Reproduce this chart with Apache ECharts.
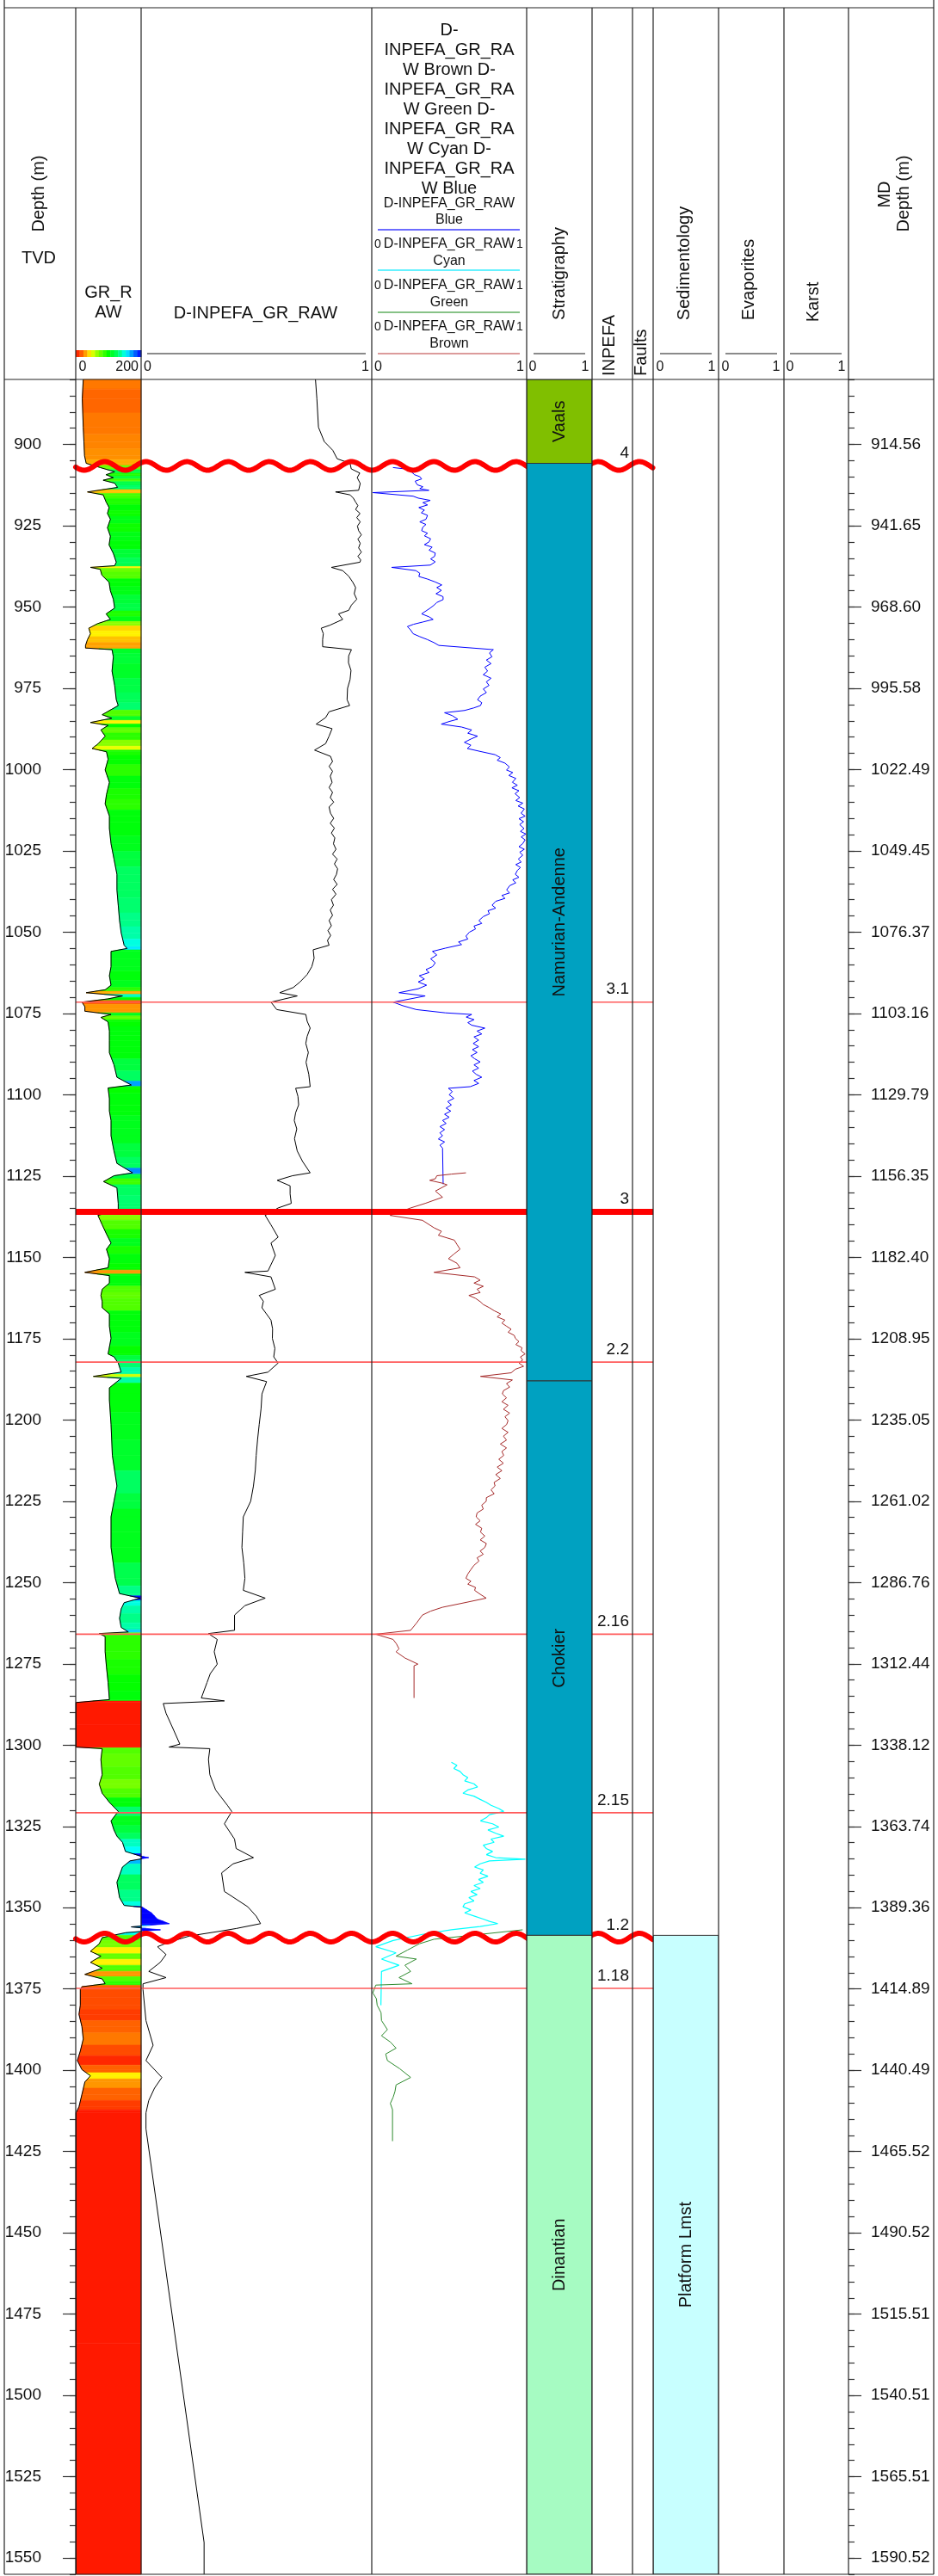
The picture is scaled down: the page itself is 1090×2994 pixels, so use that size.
<!DOCTYPE html>
<html><head><meta charset="utf-8">
<script src="https://cdn.jsdelivr.net/npm/echarts@6/dist/echarts.min.js"></script>
<style>html,body{margin:0;padding:0;background:#fff}#c{width:1090px;height:2994px}</style>
</head><body><div id="c"></div><script>
// ---------------- DATA ----------------
const depthMin = 880, depthMax = 1555;
const tvdTicks = [900,925,950,975,1000,1025,1050,1075,1100,1125,1150,1175,1200,1225,1250,1275,1300,1325,1350,1375,1400,1425,1450,1475,1500,1525,1550];
const mdLabels = ['914.56','941.65','968.60','995.58','1022.49','1049.45','1076.37','1103.16','1129.79','1156.35','1182.40','1208.95','1235.05','1261.02','1286.76','1312.44','1338.12','1363.74','1389.36','1414.89','1440.49','1465.52','1490.52','1515.51','1540.51','1565.51','1590.52'];
const minorTicks = [];
for (let d = depthMin; d <= depthMax; d += 5) minorTicks.push(d);

// GR_RAW [depth, value] (scale 0-200)
const grCurve = [[880,23],[885.9,20],[894.7,23],[899.1,25],[903.5,27],[905.8,32],[907.1,75],[908.4,119],[909.3,93],[910.2,115],[911.0,84],[911.9,119],[913.2,128],[914.6,36],[915.5,84],[917.7,93],[919.4,102],[921.2,97],[923.0,106],[925.6,97],[928.2,106],[930.9,102],[933.5,115],[936.2,124],[937.3,119],[937.8,45],[938.4,75],[940.2,80],[942.4,102],[945.0,106],[947.6,115],[950.3,119],[952.1,93],[953.8,106],[955.1,67],[956.5,40],[958.2,45],[960.0,36],[961.8,30],[962.6,30],[963.1,111],[965.3,115],[969.7,111],[974.1,119],[978.5,124],[980.3,130],[983.1,81],[984.2,110],[985.5,45],[986.4,99],[987.8,77],[989.7,90],[992.1,68],[993.5,50],[994.5,94],[996.8,99],[1000.1,90],[1003.9,103],[1007.7,94],[1010.5,90],[1014.3,103],[1018.1,103],[1022.8,108],[1027.5,117],[1032.2,126],[1037.0,126],[1041.7,130],[1046.4,134],[1050.2,139],[1054.0,148],[1055.0,157],[1055.9,108],[1060.6,108],[1063.4,103],[1066.3,108],[1067.7,90],[1068.6,32],[1069.6,143],[1070.5,99],[1071.5,19],[1072.9,28],[1074.3,28],[1075.3,108],[1076.2,77],[1077.6,99],[1080.4,103],[1083.3,103],[1087.1,103],[1090.8,117],[1094.6,126],[1097.0,170],[1097.9,99],[1101.2,103],[1105.0,103],[1107.9,108],[1112.6,108],[1117.3,117],[1121.1,126],[1124.0,174],[1124.9,117],[1126.7,85],[1128.6,126],[1133.4,130],[1135.3,130],[1137.1,68],[1140.0,81],[1142.8,94],[1145.6,108],[1147.5,94],[1150.4,103],[1153.2,99],[1154.6,28],[1155.6,103],[1157.9,103],[1159.8,81],[1161.7,77],[1163.6,81],[1165.5,81],[1167.4,103],[1171.2,103],[1174.9,108],[1179.7,99],[1180.6,117],[1182.5,130],[1185.3,139],[1186.6,54],[1187.2,139],[1190.1,103],[1193.8,103],[1201.4,108],[1210.9,112],[1220.3,126],[1225.0,117],[1229.8,108],[1239.2,108],[1248.7,121],[1253.4,134],[1254.8,197],[1256.2,148],[1258.1,139],[1261.0,134],[1263.8,139],[1265.2,161],[1265.7,72],[1266.6,90],[1271.3,90],[1276.0,94],[1280.7,99],[1286.0,103],[1286.9,1],[1300.6,1],[1301.1,81],[1304.4,77],[1309.1,81],[1312.0,72],[1314.8,81],[1317.6,103],[1320.4,130],[1323.3,108],[1326.1,117],[1328.0,126],[1329.9,143],[1332.7,152],[1334.1,197],[1334.6,223],[1335.6,166],[1337.5,143],[1342.2,126],[1346.9,134],[1349.3,148],[1349.9,205],[1351.6,232],[1353.5,250],[1354.9,286],[1355.9,170],[1356.8,259],[1357.7,152],[1359.2,81],[1361.1,72],[1363.4,45],[1364.9,77],[1366.8,45],[1368.6,81],[1370.5,28],[1371.9,81],[1373.4,90],[1374.3,19],[1375.2,14],[1380.0,14],[1382.8,10],[1386.6,19],[1390.4,23],[1394.1,14],[1397.0,5],[1399.8,19],[1401.7,45],[1403.6,28],[1407.4,19],[1411.2,10],[1413.1,1],[1555,1]];

// D-INPEFA_GR_RAW [depth, value] (0-1)
const inpefaCurve = [[880,0.756],[885.9,0.762],[894.7,0.769],[899.1,0.794],[901.8,0.831],[904.4,0.850],[905.8,0.906],[907.5,0.911],[908.8,0.948],[910.2,0.937],[912.0,0.95],[914.1,0.943],[914.6,0.843],[915.5,0.906],[916.5,0.92],[917.7,0.930],[918.8,0.94],[920.0,0.93],[921.2,0.949],[922.5,0.935],[923.8,0.95],[925.1,0.938],[926.5,0.943],[927.8,0.955],[929.1,0.94],[930.4,0.95],[931.8,0.943],[933.1,0.955],[934.4,0.94],[935.5,0.952],[936.2,0.949],[937.8,0.825],[938.8,0.874],[940.5,0.90],[942.4,0.918],[944.0,0.93],[945.9,0.924],[947.6,0.935],[949.4,0.912],[951.0,0.90],[952.1,0.856],[953.8,0.874],[955.6,0.818],[956.5,0.781],[958.2,0.79],[960.0,0.787],[962.2,0.787],[963.1,0.912],[965.0,0.90],[967.1,0.899],[969.5,0.91],[972.3,0.906],[975.0,0.895],[978.5,0.893],[980.3,0.904],[982.2,0.815],[984.0,0.80],[986.0,0.759],[987.4,0.828],[989.7,0.815],[992.0,0.80],[994.0,0.752],[995.9,0.821],[997.5,0.83],[999.0,0.815],[1000.5,0.83],[1002.0,0.82],[1003.9,0.828],[1005.5,0.815],[1007.0,0.83],[1008.6,0.82],[1010.0,0.835],[1011.5,0.815],[1013.4,0.821],[1015.0,0.835],[1016.5,0.82],[1018.0,0.838],[1019.5,0.825],[1021.0,0.84],[1022.8,0.834],[1024.5,0.845],[1026.0,0.83],[1027.5,0.85],[1029.0,0.838],[1030.5,0.852],[1032.2,0.847],[1033.8,0.835],[1035.3,0.85],[1036.8,0.83],[1038.3,0.845],[1040.0,0.825],[1041.7,0.834],[1043.2,0.82],[1044.8,0.83],[1046.4,0.815],[1048.0,0.825],[1049.5,0.81],[1051.0,0.822],[1052.5,0.808],[1054.0,0.815],[1055.4,0.746],[1058.0,0.75],[1060.6,0.740],[1063.0,0.72],[1065.3,0.689],[1067.0,0.66],[1068.6,0.601],[1069.6,0.677],[1071.5,0.563],[1073.8,0.588],[1075.3,0.714],[1077.4,0.72],[1079.5,0.733],[1082.0,0.72],[1084.2,0.714],[1087.0,0.725],[1090.0,0.715],[1093.7,0.727],[1097.5,0.733],[1098.0,0.670],[1100.5,0.68],[1103.1,0.683],[1105.5,0.67],[1107.9,0.664],[1110.5,0.675],[1113.5,0.665],[1117.3,0.677],[1120.5,0.70],[1124.0,0.733],[1124.9,0.656],[1126.3,0.590],[1128.0,0.646],[1130.5,0.646],[1133.4,0.651],[1134.8,0.594],[1137.1,0.538],[1140.0,0.563],[1143.8,0.594],[1145.6,0.563],[1149.4,0.582],[1154.2,0.550],[1154.6,0.450],[1156.0,0.563],[1159.8,0.582],[1161.7,0.512],[1163.5,0.53],[1165.5,0.524],[1169.3,0.563],[1172.0,0.57],[1174.9,0.569],[1178.0,0.58],[1180.6,0.575],[1182.5,0.594],[1185.3,0.550],[1186.6,0.456],[1188.2,0.544],[1192.0,0.524],[1196.5,0.52],[1201.4,0.512],[1206.0,0.505],[1210.9,0.499],[1215.5,0.495],[1220.3,0.487],[1225.0,0.475],[1229.8,0.443],[1234.5,0.44],[1239.2,0.437],[1244.0,0.445],[1248.7,0.450],[1252.4,0.443],[1254.8,0.538],[1257.1,0.450],[1260.0,0.405],[1264.7,0.405],[1265.7,0.292],[1267.5,0.330],[1271.3,0.317],[1275.1,0.330],[1278.0,0.30],[1280.7,0.286],[1285.5,0.261],[1286.4,0.361],[1287.2,0.096],[1290.2,0.108],[1294.9,0.138],[1299.7,0.168],[1300.6,0.121],[1301.1,0.298],[1304.4,0.292],[1309.1,0.298],[1313.8,0.323],[1318.5,0.374],[1320.4,0.393],[1324.2,0.361],[1328.9,0.405],[1331.8,0.412],[1334.6,0.487],[1336.5,0.399],[1339.3,0.349],[1345.0,0.361],[1349.7,0.462],[1352.6,0.499],[1354.9,0.518],[1356.4,0.412],[1357.3,0.336],[1358.7,0.210],[1360.6,0.121],[1362.0,0.071],[1364.4,0.108],[1366.8,0.083],[1369.6,0.033],[1371.5,0.108],[1373.4,0.008],[1375.2,0.008],[1384.7,0.021],[1392.3,0.052],[1397.0,0.021],[1402.2,0.090],[1405.5,0.058],[1409.3,0.033],[1413.1,0.021],[1418,0.021],[1545.2,0.273],[1555,0.273]];

// Coloured D-INPEFA segments [depth, value] (0-1)
const blueCurve = [[907.1,0.137],[908.0,0.304],[908.6,0.26],[909.3,0.276],[909.9,0.31],[910.6,0.322],[911.3,0.28],[912.4,0.294],[913.0,0.33],[913.6,0.31],[914.1,0.369],[914.8,0.007],[915.9,0.267],[916.5,0.30],[917.2,0.378],[917.9,0.33],[918.6,0.36],[919.4,0.304],[920.2,0.34],[921.0,0.32],[921.8,0.36],[923.0,0.350],[923.8,0.31],[924.6,0.35],[925.4,0.33],[926.5,0.322],[927.3,0.36],[928.1,0.34],[929.0,0.38],[930.0,0.369],[930.8,0.34],[931.6,0.39],[932.5,0.37],[933.4,0.41],[934.4,0.406],[935.2,0.38],[936.1,0.41],[937.1,0.378],[937.8,0.128],[938.8,0.285],[939.6,0.31],[940.6,0.304],[941.4,0.36],[942.3,0.41],[943.2,0.452],[944.0,0.42],[944.9,0.45],[945.9,0.415],[946.8,0.46],[947.7,0.461],[948.6,0.42],[949.5,0.40],[950.3,0.378],[951.2,0.35],[952.1,0.322],[953.0,0.37],[953.8,0.396],[954.6,0.33],[955.3,0.27],[956.0,0.230],[957.0,0.25],[958.2,0.267],[959.1,0.31],[960.0,0.359],[960.9,0.40],[961.8,0.433],[963.1,0.785],[964.1,0.76],[965.3,0.776],[966.3,0.74],[967.4,0.77],[968.5,0.73],[969.7,0.748],[970.8,0.72],[971.9,0.77],[973.0,0.74],[974.1,0.757],[975.2,0.72],[976.3,0.74],[977.4,0.70],[978.5,0.683],[979.4,0.71],[980.3,0.702],[981.0,0.66],[981.8,0.60],[982.5,0.470],[983.4,0.52],[984.5,0.555],[985.2,0.50],[986.0,0.449],[986.9,0.58],[987.8,0.645],[988.8,0.62],[989.7,0.683],[990.6,0.64],[991.6,0.598],[992.5,0.64],[993.5,0.617],[994.4,0.70],[995.4,0.796],[996.3,0.83],[997.1,0.81],[998.0,0.86],[999.2,0.889],[1000.1,0.87],[1000.9,0.91],[1001.8,0.885],[1002.7,0.93],[1003.9,0.908],[1004.8,0.94],[1005.6,0.905],[1006.5,0.95],[1007.4,0.925],[1008.6,0.955],[1009.5,0.93],[1010.3,0.975],[1011.2,0.945],[1012.1,0.985],[1013.4,0.964],[1014.3,0.99],[1015.1,0.95],[1016.0,0.98],[1016.9,0.955],[1018.1,0.983],[1019.0,0.96],[1019.8,0.995],[1020.7,0.965],[1021.6,0.99],[1022.8,0.974],[1023.7,0.95],[1024.5,0.985],[1025.4,0.955],[1026.3,0.975],[1027.5,0.946],[1028.4,0.965],[1029.2,0.93],[1030.1,0.96],[1031.0,0.94],[1032.2,0.927],[1033.1,0.95],[1033.9,0.91],[1034.8,0.93],[1035.7,0.89],[1037.0,0.871],[1037.9,0.89],[1038.7,0.84],[1039.6,0.86],[1040.5,0.80],[1041.7,0.777],[1042.6,0.80],[1043.4,0.75],[1044.3,0.76],[1045.2,0.72],[1046.4,0.692],[1047.3,0.71],[1048.1,0.66],[1049.0,0.67],[1050.0,0.63],[1051.2,0.608],[1052.1,0.62],[1053.0,0.56],[1053.8,0.58],[1054.9,0.476],[1055.9,0.392],[1057.0,0.42],[1058.2,0.38],[1059.4,0.41],[1060.6,0.392],[1061.5,0.35],[1062.4,0.37],[1063.4,0.307],[1064.4,0.34],[1065.3,0.30],[1066.3,0.354],[1067.4,0.30],[1068.6,0.176],[1069.6,0.345],[1070.5,0.25],[1071.5,0.138],[1072.6,0.20],[1073.8,0.288],[1074.8,0.476],[1075.3,0.645],[1076.1,0.61],[1076.9,0.66],[1077.8,0.62],[1078.6,0.645],[1079.5,0.730],[1080.4,0.68],[1081.3,0.71],[1082.2,0.66],[1083.2,0.69],[1084.2,0.655],[1085.2,0.69],[1086.1,0.65],[1087.0,0.68],[1088.0,0.64],[1088.9,0.664],[1089.9,0.70],[1090.8,0.66],[1091.8,0.69],[1092.7,0.65],[1093.7,0.674],[1094.6,0.71],[1095.6,0.66],[1096.5,0.69],[1097.5,0.636],[1098.0,0.495],[1099.0,0.52],[1100.0,0.50],[1101.1,0.53],[1102.1,0.49],[1103.1,0.514],[1104.1,0.48],[1105.0,0.51],[1106.0,0.47],[1106.9,0.50],[1107.9,0.457],[1108.8,0.48],[1109.8,0.44],[1110.7,0.47],[1111.7,0.44],[1112.6,0.457],[1113.6,0.43],[1114.5,0.47],[1115.5,0.44],[1116.4,0.457],[1127.5,0.461]];
const brownCurve = [[1124.0,0.608],[1124.4,0.514],[1124.9,0.420],[1125.8,0.411],[1126.3,0.374],[1127.2,0.457],[1127.7,0.486],[1129.6,0.411],[1131.5,0.457],[1133.4,0.345],[1134.8,0.251],[1137.1,0.119],[1138.6,0.327],[1140.9,0.402],[1142.0,0.45],[1143.2,0.43],[1144.7,0.533],[1146.0,0.55],[1147.5,0.570],[1149.0,0.53],[1150.4,0.495],[1151.8,0.55],[1153.2,0.570],[1154.6,0.402],[1156.0,0.664],[1157.0,0.70],[1157.9,0.66],[1158.9,0.720],[1159.8,0.68],[1160.8,0.70],[1161.7,0.627],[1162.6,0.67],[1163.6,0.70],[1164.5,0.720],[1165.5,0.76],[1166.4,0.79],[1167.4,0.833],[1168.3,0.81],[1169.3,0.86],[1170.2,0.84],[1171.2,0.871],[1172.1,0.90],[1173.0,0.88],[1174.0,0.92],[1174.9,0.927],[1175.9,0.95],[1176.8,0.93],[1177.8,0.97],[1178.7,0.964],[1179.7,0.99],[1180.6,0.96],[1181.6,0.974],[1182.5,0.95],[1183.5,0.98],[1184.4,0.927],[1185.5,0.90],[1186.6,0.702],[1187.7,0.908],[1188.8,0.87],[1189.9,0.89],[1191.0,0.85],[1192.0,0.843],[1193.2,0.87],[1194.4,0.84],[1195.5,0.88],[1196.7,0.85],[1197.9,0.89],[1199.0,0.86],[1200.2,0.88],[1201.4,0.871],[1202.6,0.84],[1203.8,0.88],[1205.0,0.85],[1206.2,0.87],[1207.4,0.83],[1208.6,0.87],[1209.7,0.84],[1210.9,0.852],[1212.1,0.82],[1213.3,0.85],[1214.5,0.81],[1215.6,0.84],[1216.8,0.80],[1218.0,0.83],[1219.2,0.79],[1220.3,0.796],[1221.5,0.77],[1222.7,0.79],[1223.9,0.74],[1225.0,0.739],[1226.2,0.71],[1227.4,0.72],[1228.6,0.68],[1229.8,0.674],[1231.0,0.70],[1232.1,0.67],[1233.3,0.71],[1234.5,0.702],[1235.7,0.73],[1236.9,0.70],[1238.0,0.74],[1239.2,0.730],[1240.3,0.70],[1241.3,0.72],[1242.4,0.68],[1243.4,0.692],[1244.7,0.66],[1246.0,0.64],[1247.4,0.62],[1248.7,0.608],[1249.6,0.64],[1250.5,0.62],[1251.5,0.67],[1252.4,0.664],[1253.6,0.70],[1254.8,0.739],[1256.2,0.60],[1257.6,0.457],[1258.8,0.38],[1260.0,0.327],[1262.4,0.29],[1264.7,0.251],[1265.9,0.026],[1267.5,0.138],[1268.9,0.16],[1270.4,0.176],[1271.3,0.157],[1273.2,0.214],[1275.1,0.298],[1275.6,0.273],[1285.5,0.273]];
const cyanCurve = [[1305.3,0.514],[1306.2,0.55],[1307.2,0.53],[1308.1,0.57],[1309.1,0.589],[1310.0,0.62],[1311.0,0.60],[1311.9,0.66],[1312.9,0.683],[1313.8,0.62],[1314.8,0.589],[1315.7,0.66],[1316.7,0.70],[1317.6,0.739],[1318.5,0.77],[1319.5,0.82],[1320.4,0.852],[1321.4,0.76],[1322.3,0.74],[1323.3,0.702],[1324.2,0.78],[1325.2,0.82],[1326.1,0.75],[1327.1,0.80],[1328.0,0.852],[1328.9,0.77],[1329.9,0.79],[1330.8,0.72],[1331.8,0.739],[1332.7,0.78],[1333.7,0.74],[1334.6,0.80],[1335.1,0.992],[1335.6,0.76],[1336.5,0.70],[1337.5,0.664],[1338.4,0.72],[1339.4,0.70],[1340.3,0.75],[1341.3,0.69],[1342.2,0.720],[1343.2,0.66],[1344.1,0.70],[1345.0,0.64],[1346.0,0.68],[1346.9,0.627],[1347.9,0.66],[1348.8,0.60],[1349.7,0.589],[1350.7,0.64],[1351.6,0.60],[1352.6,0.664],[1353.5,0.72],[1354.2,0.76],[1354.9,0.814],[1355.8,0.70],[1356.8,0.514],[1358.2,0.327],[1360.1,0.138],[1362.0,0.026],[1363.9,0.157],[1365.8,0.063],[1367.7,0.176],[1369.6,0.063],[1370.1,0.059],[1380.0,0.059]];
const greenCurve = [[1356.8,0.974],[1358.2,0.702],[1359.7,0.402],[1361.1,0.307],[1363.0,0.232],[1364.9,0.157],[1365.8,0.288],[1367.7,0.214],[1369.6,0.251],[1371.5,0.176],[1373.4,0.260],[1373.8,0.026],[1376.2,0.007],[1378.0,0.03],[1380.0,0.035],[1382.3,0.06],[1384.7,0.063],[1387.5,0.101],[1389.4,0.063],[1391.3,0.12],[1393.2,0.157],[1395.0,0.09],[1397.0,0.101],[1399.5,0.18],[1402.2,0.251],[1404.5,0.157],[1406.5,0.15],[1408.3,0.138],[1410.2,0.12],[1412.1,0.134],[1421.8,0.134]];

// Stratigraphy
const stratNames = ['Vaals','Namurian-Andenne','Chokier','Dinantian'];
const stratTops  = [880, 905.8, 1188, 1358.5];
const stratBases = [905.8, 1188, 1358.5, 1555];
// Sedimentology
const sedNames = ['Platform Lmst'];
const sedTops = [1358.5];
const sedBases = [1555];
// INPEFA surfaces
const inpefaPickDepths = [906.6, 1071.5, 1136, 1182.2, 1265.9, 1320.8, 1359.2, 1374.8];
const inpefaPickLabels = ['4','3.1','3','2.2','2.16','2.15','1.2','1.18'];
const unconformities = [906.6, 1359.2];
const majorSurfaces = [1136];
const minorSurfaces = [1071.5, 1182.2, 1265.9, 1320.8, 1374.8];

// ---------------- STYLE ----------------
const FONT = '"Liberation Sans", Arial, sans-serif';
const stratColors = ['#80BF00','#00A1C1','#00A1C1','#A6FBC2'];
const sedColors = ['#C8FFFF'];
const curveColors = {blue:'#0000FF', brown:'#A52A2A', cyan:'#00FFFF', green:'#2E8B2E'};
const TOP = 441, BOTTOM = 2992;
const tracks = [
  {left:88, width:76, xmax:200},  // 0 GR
  {left:164, width:268, xmax:1},  // 1 D-INPEFA
  {left:432, width:180, xmax:1},  // 2 coloured
  {left:612, width:76, xmax:1},   // 3 strat
  {left:688, width:47, xmax:1},   // 4 INPEFA
  {left:735, width:24, xmax:1},   // 5 faults
  {left:759, width:76, xmax:1},   // 6 sed
  {left:835, width:76, xmax:1},   // 7 evaporites
  {left:911, width:75, xmax:1},   // 8 karst
  {left:88, width:671, xmax:1}    // 9 overlay for surfaces
];
const wave = {amp:5, period:47.8, phase:121.7};
// colour scale knots for GR fill (value -> hue)
const hueKnots = [[0,5],[10,14],[20,24],[30,38],[45,57],[60,80],[100,120],[130,146],[150,176],[190,228],[200,240]];

function grColor(v){
  v = Math.max(0, Math.min(200, v));
  let h = 240;
  for (let k = 0; k < hueKnots.length - 1; k++) {
    const a = hueKnots[k], b = hueKnots[k+1];
    if (v >= a[0] && v <= b[0]) { h = a[1] + (b[1]-a[1]) * (v - a[0]) / (b[0] - a[0]); break; }
  }
  const f = (n) => { const k = (n + h / 60) % 6; return 1 - Math.max(0, Math.min(k, 4 - k, 1)); };
  const to = (x) => Math.round(x * 255).toString(16).padStart(2, '0');
  return '#' + to(f(5)) + to(f(3)) + to(f(1));
}

const chart = echarts.init(document.getElementById('c'), null, {renderer:'canvas'});

const grids = tracks.map(t => ({left:t.left, top:TOP, width:t.width, height:BOTTOM-TOP, containLabel:false}));
const xAxes = tracks.map((t,i) => ({gridIndex:i, type:'value', min:0, max:t.xmax, show:false}));
const yAxes = tracks.map((t,i) => ({gridIndex:i, type:'value', min:depthMin, max:depthMax, inverse:true, show:false}));
const tickStyle = {color:'#333', width:1.2};
yAxes.push({gridIndex:0, type:'value', min:depthMin, max:depthMax, inverse:true, position:'left',
  axisLine:{show:false}, splitLine:{show:false},
  axisTick:{show:true, length:15, customValues:tvdTicks, lineStyle:tickStyle},
  axisLabel:{show:true, customValues:tvdTicks, margin:40, fontSize:19, fontFamily:FONT, color:'#111',
    formatter: v => String(v)}});
yAxes.push({gridIndex:0, type:'value', min:depthMin, max:depthMax, inverse:true, position:'left',
  axisLine:{show:false}, splitLine:{show:false},
  axisTick:{show:true, length:7, customValues:minorTicks, lineStyle:tickStyle},
  axisLabel:{show:false}});
yAxes.push({gridIndex:8, type:'value', min:depthMin, max:depthMax, inverse:true, position:'right',
  axisLine:{show:false}, splitLine:{show:false},
  axisTick:{show:true, length:15, customValues:tvdTicks, lineStyle:tickStyle},
  axisLabel:{show:true, customValues:tvdTicks, margin:26, fontSize:19, fontFamily:FONT, color:'#111',
    formatter: v => { const i = tvdTicks.indexOf(v); return i >= 0 ? mdLabels[i] : ''; }}});
yAxes.push({gridIndex:8, type:'value', min:depthMin, max:depthMax, inverse:true, position:'right',
  axisLine:{show:false}, splitLine:{show:false},
  axisTick:{show:true, length:7, customValues:minorTicks, lineStyle:tickStyle},
  axisLabel:{show:false}});

function lineSeries(track, curve, color, width, z){
  return {type:'line', xAxisIndex:track, yAxisIndex:track, data: curve.map(p => [p[1], p[0]]),
    showSymbol:false, symbol:'none', clip:false, z:z||3, animation:false,
    lineStyle:{color:color, width:width||1}};
}

const series = [];
// GR colour fill
series.push({type:'custom', xAxisIndex:0, yAxisIndex:0, clip:false, z:1, animation:false,
  data: grCurve.slice(0, -1).map((p, i) => [i]),
  renderItem(params, api){
    const i = api.value(0);
    const a = grCurve[i], b = grCurve[i+1];
    const dm = (a[0] + b[0]) / 2, vm = (a[1] + b[1]) / 2;
    const pa = api.coord([a[1], a[0]]), pm = api.coord([vm, dm]), pb = api.coord([b[1], b[0]]);
    const ra = api.coord([200, a[0]]), rm = api.coord([200, dm]), rb = api.coord([200, b[0]]);
    const ca = grColor(a[1]), cb = grColor(b[1]);
    return {type:'group', children:[
      {type:'polygon', shape:{points:[pa, pm, rm, ra]}, style:{fill:ca, stroke:ca, lineWidth:0.6}},
      {type:'polygon', shape:{points:[pm, pb, rb, rm]}, style:{fill:cb, stroke:cb, lineWidth:0.6}}
    ]};
  }});
series.push(lineSeries(0, grCurve, '#000', 1, 3));
series.push(lineSeries(1, inpefaCurve, '#000', 1, 3));
series.push(lineSeries(2, blueCurve, curveColors.blue, 1, 3));
series.push(lineSeries(2, brownCurve, curveColors.brown, 1, 3));
series.push(lineSeries(2, cyanCurve, curveColors.cyan, 1.2, 3));
series.push(lineSeries(2, greenCurve, curveColors.green, 1, 3));

// surfaces on overlay
series.push({type:'custom', xAxisIndex:9, yAxisIndex:9, clip:false, z:5, animation:false,
  data: minorSurfaces.map(d => [d]),
  renderItem(params, api){
    const d = api.value(0); const l = api.coord([0, d]), r = api.coord([1, d]);
    return {type:'line', shape:{x1:l[0], y1:l[1], x2:r[0], y2:r[1]}, style:{stroke:'#FF5A5A', lineWidth:1.6}};
  }});
series.push({type:'custom', xAxisIndex:9, yAxisIndex:9, clip:false, z:5, animation:false,
  data: majorSurfaces.map(d => [d]),
  renderItem(params, api){
    const d = api.value(0); const l = api.coord([0, d]), r = api.coord([1, d]);
    return {type:'line', shape:{x1:l[0], y1:l[1], x2:r[0], y2:r[1]}, style:{stroke:'#FF0000', lineWidth:7}};
  }});
series.push({type:'custom', xAxisIndex:9, yAxisIndex:9, clip:false, z:5, animation:false,
  data: unconformities.map(d => [d]),
  renderItem(params, api){
    const d = api.value(0); const l = api.coord([0, d]), r = api.coord([1, d]);
    const pts = [];
    for (let x = l[0]; x <= r[0] + 0.01; x += 1.5) {
      pts.push([x, l[1] - wave.amp * Math.cos(2 * Math.PI * (x - wave.phase) / wave.period)]);
    }
    return {type:'polyline', shape:{points:pts}, style:{stroke:'#FF0000', lineWidth:6, fill:null, lineCap:'round', lineJoin:'round'}};
  }});
// stratigraphy blocks
function blockSeries(track, names, tops, bases, colors){
  return {type:'custom', xAxisIndex:track, yAxisIndex:track, clip:true, z:10, animation:false,
    data: names.map((n, i) => [i]),
    renderItem(params, api){
      const i = api.value(0);
      const p1 = api.coord([0, tops[i]]), p2 = api.coord([1, bases[i]]);
      return {type:'group', children:[
        {type:'rect', shape:{x:p1[0], y:p1[1], width:p2[0]-p1[0], height:p2[1]-p1[1]},
          style:{fill:colors[i], stroke:'#333', lineWidth:1}},
        {type:'text', x:(p1[0]+p2[0])/2, y:(p1[1]+p2[1])/2, rotation:Math.PI/2,
          style:{text:names[i], align:'center', verticalAlign:'middle', font:'20px ' + FONT, fill:'#111'}}
      ]};
    }};
}
series.push(blockSeries(3, stratNames, stratTops, stratBases, stratColors));
series.push(blockSeries(6, sedNames, sedTops, sedBases, sedColors));
// INPEFA labels
series.push({type:'custom', xAxisIndex:4, yAxisIndex:4, clip:false, z:11, animation:false,
  data: inpefaPickDepths.map((d, i) => [i]),
  renderItem(params, api){
    const i = api.value(0);
    const p = api.coord([1, inpefaPickDepths[i]]);
    return {type:'text', x:p[0]-4, y:p[1]-5, style:{text:inpefaPickLabels[i], align:'right', verticalAlign:'bottom', font:'19px ' + FONT, fill:'#111'}};
  }});

// ---------------- HEADER / FRAME graphics ----------------
const g = [];
function T(text, x, y, size, opts){
  opts = opts || {};
  g.push({type:'text', x:x, y:y, rotation: opts.rot ? Math.PI/2 : 0, z:50,
    style:{text:text, align:opts.align||'center', verticalAlign:opts.va||'middle', font:(size)+'px ' + FONT,
      fill:'#111', lineHeight:opts.lh}});
}
function L(x1, y1, x2, y2, color, w, z){
  g.push({type:'line', z:z||100, shape:{x1:x1, y1:y1, x2:x2, y2:y2}, style:{stroke:color, lineWidth:w}});
}
// frame
const FL = 5, FR = 1085, HT = 9;
L(FL, HT, FR, HT, '#222', 1.2);
L(FL, TOP, FR, TOP, '#222', 1.2);
L(FL, BOTTOM, FR, BOTTOM, '#222', 1.2);
L(FL, 0, FL, BOTTOM, '#222', 1.2);
L(FR, 0, FR, BOTTOM, '#222', 1.2);
[88,164,432,612,688,735,759,835,911,986].forEach(x => L(x, HT, x, BOTTOM, '#222', 1.2));
// depth header
T('Depth (m)', 45, 225, 20, {rot:true});
T('TVD', 45, 300, 20);
// GR header
T('GR_R', 126, 340, 20);
T('AW', 126, 363, 20);
const nSeg = 17;
for (let i = 0; i < nSeg; i++) {
  const w = 76 / nSeg;
  g.push({type:'rect', z:50, shape:{x:88 + i*w, y:407, width:w+0.4, height:8}, style:{fill:grColor((i+0.5)/nSeg*200)}});
}
T('0', 96, 427, 16);
T('200', 161, 427, 16, {align:'right'});
// D-INPEFA header
T('D-INPEFA_GR_RAW', 297, 364, 20);
L(171, 411, 425, 411, '#8a8a8a', 2, 50);
T('0', 167, 427, 16, {align:'left'});
T('1', 429, 427, 16, {align:'right'});
// coloured header
T('D-\nINPEFA_GR_RA\nW Brown D-\nINPEFA_GR_RA\nW Green D-\nINPEFA_GR_RA\nW Cyan D-\nINPEFA_GR_RA\nW Blue', 522, 23.5, 20, {va:'top', lh:23});
T('D-INPEFA_GR_RAW', 522, 237, 16);
T('Blue', 522, 256, 16);
L(439, 267, 604, 267, '#3b3bff', 1.6, 50);
[[284,'Cyan',304,314,'#33eeff'],[332,'Green',352,363,'#5fae5f'],[380,'Brown',400,411,'#d07a7a']].forEach(r => {
  T('0', 439, r[0], 14); T('D-INPEFA_GR_RAW', 522, r[0], 16); T('1', 604, r[0], 14);
  T(r[1], 522, r[2], 16);
  L(439, r[3], 604, r[3], r[4], 1.6, 50);
});
T('0', 435, 427, 16, {align:'left'});
T('1', 609, 427, 16, {align:'right'});
// other headers
T('Stratigraphy', 650, 318, 20, {rot:true});
L(620, 411, 680, 411, '#8a8a8a', 2, 50); T('0', 619, 427, 16); T('1', 680, 427, 16);
T('INPEFA', 708, 437, 20, {rot:true, align:'left'});
T('Faults', 745, 437, 20, {rot:true, align:'left'});
T('Sedimentology', 795, 306, 20, {rot:true});
L(767, 411, 827, 411, '#8a8a8a', 2, 50); T('0', 767, 427, 16); T('1', 827, 427, 16);
T('Evaporites', 870, 325, 20, {rot:true});
L(843, 411, 903, 411, '#8a8a8a', 2, 50); T('0', 843, 427, 16); T('1', 902, 427, 16);
T('Karst', 945, 351, 20, {rot:true});
L(918, 411, 978, 411, '#8a8a8a', 2, 50); T('0', 918, 427, 16); T('1', 978, 427, 16);
T('MD', 1028, 226, 20, {rot:true});
T('Depth (m)', 1050, 225, 20, {rot:true});

chart.setOption({
  animation:false,
  backgroundColor:'#fff',
  grid: grids,
  xAxis: xAxes,
  yAxis: yAxes,
  series: series,
  graphic: g
});
</script></body></html>
